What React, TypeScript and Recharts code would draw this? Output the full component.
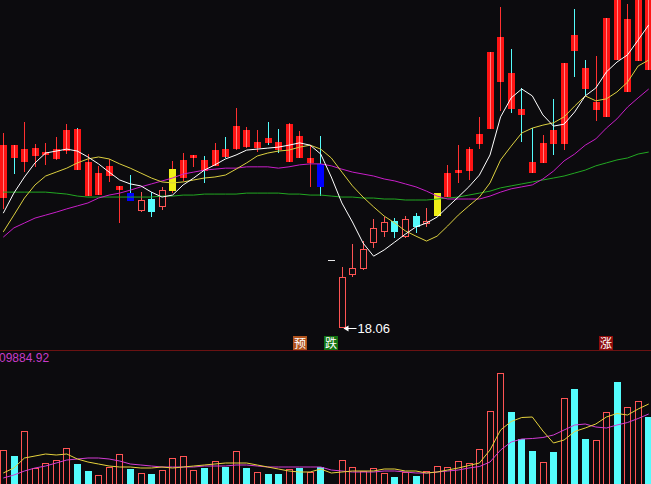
import React from "react";
import { ComposedChart, Bar, Line, XAxis, YAxis } from "recharts";

// daily candles
const opens = [
  22.02, 23.63, 23.12, 23.3, 23.33, 23.21, 23.45, 24.12, 23.12, 22.11,
  22.69, 22.26, 22.17, 21.62, 21.99, 21.75, 22.23, 22.63, 23.24, 23.18,
  23.0, 23.51, 23.51, 24.09, 23.54, 23.85, 23.73, 23.12, 23.91, 23.09,
  23.06, 20.12, 18.06, 19.68, 19.86, 20.65, 20.99, 21.32, 20.83, 21.47,
  21.23, 21.47, 22.05, 22.78, 22.84, 23.66, 24.12, 25.55, 25.83, 24.73,
  23.12, 23.09, 24.09, 23.66, 26.98, 25.98, 24.7, 24.49, 28.2, 25.25,
  26.19, 28.2,
];
const closes = [
  23.63, 23.24, 23.51, 23.54, 23.42, 23.51, 24.09, 22.87, 22.08, 22.78,
  23.0, 22.39, 21.93, 21.96, 21.59, 22.26, 22.9, 23.18, 23.33, 22.84,
  23.48, 23.27, 24.21, 23.57, 23.73, 23.7, 23.48, 24.27, 23.24, 23.24,
  22.36, 20.12, 19.62, 19.89, 20.47, 21.11, 21.29, 20.99, 21.38, 21.14,
  21.32, 22.17, 22.78, 22.87, 23.51, 23.97, 26.47, 26.92, 24.73, 24.55,
  22.78, 23.7, 23.66, 26.13, 26.5, 25.34, 24.94, 27.5, 26.22, 27.47,
  28.2, 25.92,
];
const highs = [
  24.0, 23.63, 24.34, 23.66, 23.7, 23.88, 24.27, 24.15, 23.36, 23.0,
  23.21, 22.39, 22.72, 22.2, 22.2, 22.36, 23.15, 23.39, 23.33, 23.3,
  23.7, 23.88, 24.76, 24.18, 24.09, 24.34, 24.12, 24.31, 24.06, 23.6,
  23.91, 20.12, 19.92, 20.62, 20.71, 21.38, 21.44, 21.41, 21.47, 21.56,
  21.72, 22.17, 23.03, 23.63, 23.57, 24.49, 26.47, 27.84, 26.56, 25.37,
  24.15, 23.94, 25.04, 26.13, 27.78, 26.22, 26.34, 27.5, 28.29, 27.93,
  28.29, 28.29,
];
const lows = [
  21.69, 22.75, 22.81, 22.97, 23.03, 23.18, 23.36, 22.87, 22.08, 22.11,
  22.51, 21.26, 21.93, 21.59, 21.44, 21.66, 22.17, 22.54, 22.97, 22.48,
  23.0, 23.24, 23.48, 23.54, 23.42, 23.63, 23.39, 23.12, 23.24, 22.36,
  22.08, 20.12, 18.06, 19.62, 19.83, 20.5, 20.83, 20.8, 20.8, 20.95,
  21.14, 21.47, 22.05, 22.48, 22.57, 23.51, 24.12, 24.67, 24.61, 23.73,
  22.78, 23.09, 23.33, 23.48, 25.71, 25.13, 24.37, 24.49, 26.22, 25.25,
  26.19, 25.92,
];
// body paint per day: R red, Rc red with cyan wick, H hollow, C cyan, B blue, Y yellow, F one-price
const kinds = [
  "R", "Rc", "R", "R", "R", "R", "R", "Rc", "R", "R",
  "R", "R", "B", "H", "C", "H", "Y", "R", "R", "Rc",
  "R", "Rc", "R", "R", "R", "Rc", "Rc", "R", "R", "R",
  "B", "F", "H", "H", "H", "H", "H", "C", "H", "C",
  "H", "Y", "R", "R", "R", "R", "R", "R", "Rc", "Rc",
  "Rc", "R", "Rc", "R", "Rc", "Rc", "R", "R", "R", "R",
  "R", "R",
];

const ma5 = [
  21.56, 22.17, 22.66, 23.09, 23.39, 23.45, 23.51, 23.45, 23.27, 23.06,
  22.81, 22.57, 22.45, 22.39, 22.2, 22.05, 22.11, 22.42, 22.63, 22.87,
  23.03, 23.21, 23.33, 23.48, 23.51, 23.54, 23.57, 23.63, 23.7, 23.63,
  23.36, 22.66, 21.87, 21.29, 20.65, 20.25, 20.44, 20.68, 20.92, 21.14,
  21.26, 21.44, 21.75, 22.05, 22.36, 22.72, 23.33, 24.49, 25.07, 25.34,
  25.13, 24.55, 24.21, 24.27, 24.64, 25.13, 25.37, 25.86, 26.16, 26.38,
  26.83, 27.29,
];
const ma10 = [
  20.99, 21.5, 22.02, 22.42, 22.69, 22.81, 22.93, 23.09, 23.21, 23.27,
  23.21, 23.06, 22.93, 22.78, 22.63, 22.51, 22.48, 22.51, 22.57, 22.63,
  22.66, 22.72, 22.9, 23.09, 23.3, 23.39, 23.45, 23.48, 23.57, 23.63,
  23.51, 23.24, 22.81, 22.39, 22.05, 21.75, 21.47, 21.26, 21.02, 20.86,
  20.71, 20.86, 21.17, 21.5, 21.78, 22.05, 22.48, 23.18, 23.6, 24.0,
  24.15, 24.24, 24.31, 24.49, 24.82, 25.13, 24.98, 25.04, 25.25, 25.55,
  26.04, 26.22,
];
const ma30 = [
  20.83, 21.11, 21.26, 21.41, 21.5, 21.59, 21.69, 21.78, 21.87, 22.02,
  22.11, 22.17, 22.26, 22.36, 22.45, 22.54, 22.63, 22.75, 22.81, 22.87,
  22.9, 22.93, 22.93, 22.97, 22.97, 22.97, 22.93, 22.97, 23.03, 23.06,
  23.06, 23.0, 22.9, 22.81, 22.75, 22.69, 22.6, 22.54, 22.45, 22.36,
  22.23, 22.08, 21.99, 21.99, 21.99, 21.99, 22.08, 22.2, 22.3, 22.36,
  22.42, 22.6, 22.84, 23.15, 23.36, 23.63, 23.82, 24.15, 24.43, 24.79,
  25.07, 25.34,
];
const ma60 = [
  22.2, 22.2, 22.2, 22.2, 22.2, 22.17, 22.14, 22.08, 22.05, 22.05,
  22.05, 22.05, 22.05, 22.05, 22.05, 22.08, 22.08, 22.11, 22.11, 22.14,
  22.14, 22.14, 22.14, 22.17, 22.17, 22.17, 22.17, 22.14, 22.14, 22.11,
  22.11, 22.08, 22.05, 22.05, 22.02, 22.02, 21.99, 21.99, 21.96, 21.96,
  21.96, 21.99, 22.02, 22.05, 22.11, 22.17, 22.23, 22.33, 22.39, 22.45,
  22.51, 22.57, 22.63, 22.69, 22.78, 22.87, 23.0, 23.09, 23.18, 23.24,
  23.36, 23.42,
];

const volumes = [
  34000, 28000, 53000, 16000, 21000, 24000, 36000, 20000, 13000, 9000,
  17000, 30000, 15000, 11000, 10000, 14000, 26000, 28000, 14000, 16000,
  23000, 17000, 33000, 16000, 12000, 10000, 10000, 15000, 16000, 12000,
  17000, 500, 24000, 17000, 13000, 16000, 11000, 7000, 12000, 8000,
  13000, 18000, 17000, 23000, 21000, 35000, 73000, 111000, 72000, 45000,
  33000, 22000, 32000, 86000, 95000, 45000, 44000, 72000, 102000, 77000,
  83000, 67000,
];
const volMa5 = [
  11000, 16000, 26000, 28000, 30000, 29000, 30000, 25000, 22000, 20000,
  18000, 17000, 17000, 16000, 16000, 17000, 16000, 17000, 18000, 19000,
  20000, 21000, 21000, 21000, 19000, 17000, 15000, 13000, 12000, 12000,
  15000, 11000, 12000, 13000, 13000, 13000, 15000, 15000, 13000, 13000,
  11000, 12000, 14000, 16000, 18500, 21000, 34000, 54000, 62500, 66500,
  67000, 53000, 41000, 44000, 52500, 56000, 60000, 67000, 70500, 69000,
  75000, 80000,
];
const volMa10 = [
  6000, 9000, 13000, 16000, 18000, 21000, 24000, 25000, 26000, 26000,
  25000, 23000, 20000, 19000, 18000, 17000, 17000, 17000, 17000, 18000,
  18000, 18000, 19000, 19000, 18000, 17000, 17000, 17000, 17000, 17000,
  17000, 14000, 13000, 12000, 12000, 12000, 13000, 13000, 12000, 11000,
  11000, 12000, 13000, 14000, 16000, 17500, 22000, 34000, 42000, 45000,
  45500, 46500, 49000, 54000, 59000, 60000, 57000, 56000, 59000, 61500,
  65500, 70000,
];

const days = opens.map((_, i) => i + 1);
const signalDays = [29, 32, 58];
const signalTexts = ["预", "跌", "涨"];
const volLabel = "09884.92";

const BG = "#0c0b0e";
const RED = "#ff1414";
const RED_LINE = "#ff8080";
const HOLLOW = "#ff5454";
const CYAN = "#54fcfc";
const SIGNAL_BG: Record<string, string> = { 预: "#b0521c", 跌: "#117311", 涨: "#8e0c0c" };

const PRICE_MIN = 17.819;
const PRICE_MAX = 28.659;

const rows = days.map((day, i) => ({
  day,
  open: opens[i],
  close: closes[i],
  high: highs[i],
  low: lows[i],
  kind: kinds[i],
  ma5: ma5[i],
  ma10: ma10[i],
  ma30: ma30[i],
  ma60: ma60[i],
  vol: volumes[i],
  vma5: volMa5[i],
  vma10: volMa10[i],
}));

const lowIdx = lows.indexOf(Math.min(...lows));

function Candle(props: any) {
  const { x, y, width, height, payload, index } = props;
  if (x == null || y == null || !payload) return <g />;
  const { open, close, high, low, kind } = payload;
  const left = Math.round(x);
  const w = Math.round(width);
  const cx = left + Math.floor(w / 2) + 0.5;
  if (kind === "F" || high === low) {
    const yy = Math.round(y) + 0.5;
    return <line x1={left} x2={left + w} y1={yy} y2={yy} stroke="#e6e6e6" />;
  }
  const k = height / (high - low);
  const py = (p: number) => Math.round(y + (high - p) * k);
  const top = py(Math.max(open, close));
  const bot = py(Math.min(open, close));
  const yh = py(high);
  const yl = py(low);
  const bh = Math.max(bot - top, 1);

  let body: React.ReactNode;
  if (kind === "H") {
    body = (
      <g>
        <line x1={cx} x2={cx} y1={yh} y2={top} stroke={HOLLOW} />
        <line x1={cx} x2={cx} y1={bot} y2={yl} stroke={HOLLOW} />
        <rect x={left} y={top} width={w} height={bh} fill={HOLLOW} />
        {bh > 2 && <rect x={left + 1} y={top + 1} width={w - 2} height={bh - 2} fill={BG} />}
      </g>
    );
  } else {
    const fill = kind === "C" ? CYAN : kind === "B" ? "#0000ff" : kind === "Y" ? "#f0f018" : RED;
    const wick = kind === "C" || kind === "B" || kind === "Rc" ? CYAN : "#ff3030";
    body = (
      <g>
        <line x1={cx} x2={cx} y1={yh} y2={yl} stroke={wick} />
        <rect x={left} y={top} width={w} height={bh} fill={fill} />
        {(kind === "R" || kind === "Rc") && <line x1={cx} x2={cx} y1={top} y2={bot} stroke={RED_LINE} />}
      </g>
    );
  }

  return (
    <g>
      {body}
      {index === lowIdx && (
        <g>
          <line x1={cx + 2} x2={cx + 14} y1={yl + 0.5} y2={yl + 0.5} stroke="#ffffff" />
          <path d={`M${cx + 1} ${yl + 0.5} l5 -3 v6 z`} fill="#ffffff" />
          <text x={cx + 15} y={yl + 5} fill="#ffffff" fontSize={13} fontFamily="Liberation Sans, Arial, sans-serif">
            {low.toFixed(2)}
          </text>
        </g>
      )}
    </g>
  );
}

function SignalTick(props: any) {
  const { x, y, payload } = props;
  const k = signalDays.indexOf(payload?.value);
  if (k < 0) return <g />;
  const t = signalTexts[k];
  const left = Math.round(x) - 7;
  const top = Math.round(y);
  return (
    <g>
      <rect x={left} y={top} width={14} height={14} fill={SIGNAL_BG[t]} />
      <text x={left + 7} y={top + 12} textAnchor="middle" fontSize={12} fill="#ffffff" fontFamily="Noto Sans CJK SC, sans-serif">
        {t}
      </text>
    </g>
  );
}

function VolBar(props: any) {
  const { x, y, width, height, payload } = props;
  if (x == null || y == null || !payload) return <g />;
  const left = Math.round(x);
  const w = Math.round(width);
  const top = Math.round(y);
  const h = Math.max(Math.round(y + height) - top, 0);
  if (payload.close >= payload.open) {
    return (
      <g>
        <rect x={left} y={top} width={w} height={h} fill={HOLLOW} />
        {h > 1 && <rect x={left + 1} y={top + 1} width={w - 2} height={h - 1} fill={BG} />}
      </g>
    );
  }
  return <rect x={left} y={top} width={w} height={h} fill={CYAN} />;
}

export default function App() {
  return (
    <div style={{ position: "relative", width: 651, height: 484, overflow: "hidden", background: BG }}>
      <style>{`body{margin:0;background:${BG};}`}</style>
      <div style={{ position: "absolute", left: -2, top: -20 }}>
        <ComposedChart width={656} height={371} data={rows} margin={{ top: 0, right: 0, bottom: 0, left: 0 }}>
          <XAxis
            dataKey="day"
            height={15}
            axisLine={false}
            tickLine={false}
            tickSize={0}
            tickMargin={0}
            interval={0}
            tick={<SignalTick />}
          />
          <YAxis hide domain={[PRICE_MIN, PRICE_MAX]} />
          <Bar dataKey={(d: any) => [d.low, d.high]} barSize={7} shape={<Candle />} isAnimationActive={false} />
          <Line type="linear" dataKey="ma60" stroke="#22a822" strokeWidth={1} dot={false} activeDot={false} isAnimationActive={false} />
          <Line type="linear" dataKey="ma30" stroke="#c81ec8" strokeWidth={1} dot={false} activeDot={false} isAnimationActive={false} />
          <Line type="linear" dataKey="ma10" stroke="#dcd040" strokeWidth={1} dot={false} activeDot={false} isAnimationActive={false} />
          <Line type="linear" dataKey="ma5" stroke="#ffffff" strokeWidth={1} dot={false} activeDot={false} isAnimationActive={false} />
        </ComposedChart>
      </div>
      <div style={{ position: "absolute", left: 0, top: 350, width: 651, height: 1, background: "#6a1212" }} />
      <div
        style={{
          position: "absolute",
          left: -1,
          top: 351,
          color: "#c83cc8",
          font: "12px 'Liberation Sans', Arial, sans-serif",
          lineHeight: "14px",
        }}
      >
        {volLabel}
      </div>
      <div style={{ position: "absolute", left: -2, top: 351 }}>
        <ComposedChart width={656} height={133} data={rows} margin={{ top: 0, right: 0, bottom: 0, left: 0 }}>
          <XAxis dataKey="day" hide />
          <YAxis hide domain={[0, 133000]} />
          <Bar dataKey="vol" barSize={7} shape={<VolBar />} isAnimationActive={false} />
          <Line type="linear" dataKey="vma10" stroke="#d23cd2" strokeWidth={1} dot={false} activeDot={false} isAnimationActive={false} />
          <Line type="linear" dataKey="vma5" stroke="#e6d23c" strokeWidth={1} dot={false} activeDot={false} isAnimationActive={false} />
        </ComposedChart>
      </div>
    </div>
  );
}
